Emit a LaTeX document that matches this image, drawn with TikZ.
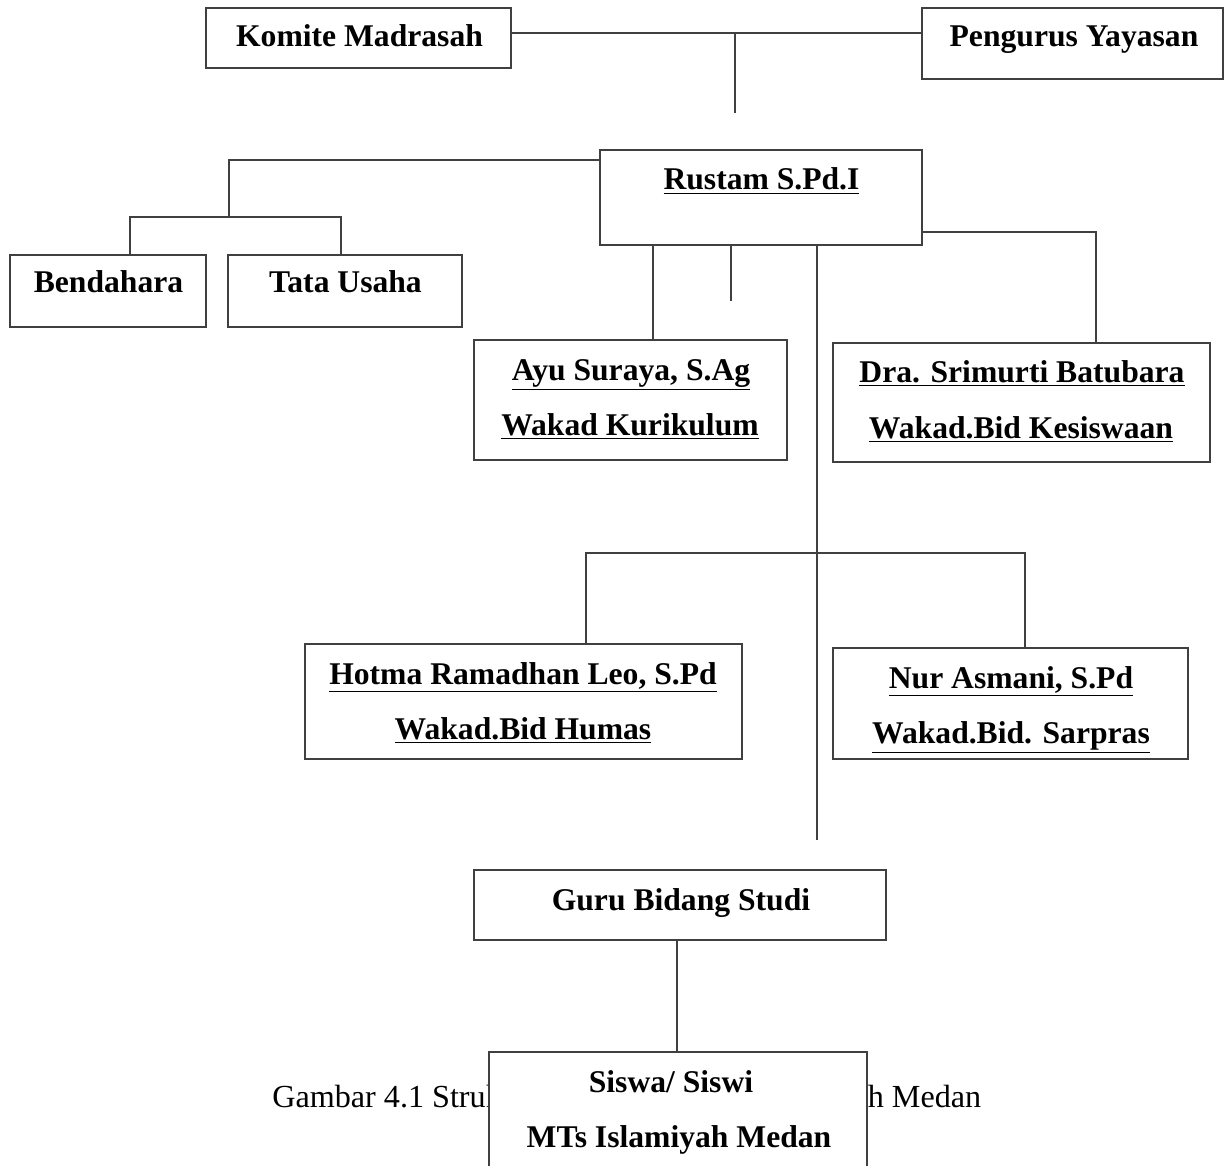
\documentclass[tikz,border=0pt]{standalone}
\usepackage{fontspec}
\setmainfont{Liberation Serif}
\begin{document}
\begin{tikzpicture}[x=0.02cm,y=-0.02cm,
  box/.style={draw=black!75,line width=0.8pt,rectangle,inner sep=0pt,fill=white},
  lbl/.style={anchor=base,inner sep=0pt,font=\fontsize{18}{22}\selectfont\bfseries},
  captext/.style={anchor=base west,inner sep=0pt,font=\fontsize{18.3}{22}\selectfont},
  conn/.style={draw=black!75,line width=0.6pt}]
\useasboundingbox[fill=white] (0,0) rectangle (1225,1166);
\clip (0,0) rectangle (1225,1166);

% boxes
\node[box,minimum width=6.10cm,minimum height=1.20cm] (komite) at (358.5,38) {};
\node[box,minimum width=6.02cm,minimum height=1.42cm] (pengurus) at (1072.5,43.5) {};
\node[box,minimum width=6.44cm,minimum height=1.90cm] (rustam) at (761,197.5) {};
\node[box,minimum width=3.92cm,minimum height=1.44cm] (bend) at (108,291) {};
\node[box,minimum width=4.68cm,minimum height=1.44cm] (tata) at (345,291) {};
\node[box,minimum width=6.26cm,minimum height=2.40cm] (ayu) at (630.5,400) {};
\node[box,minimum width=7.54cm,minimum height=2.38cm] (dra) at (1021.5,402.5) {};
\node[box,minimum width=8.74cm,minimum height=2.30cm] (hotma) at (523.5,701.5) {};
\node[box,minimum width=7.10cm,minimum height=2.22cm] (nur) at (1010.5,703.5) {};
\node[box,minimum width=8.24cm,minimum height=1.40cm] (guru) at (680,905) {};

% labels
\node[lbl] (tkomite) at (359.5,47) {Komite Madrasah};
\node[lbl] (tpengurus) at (1074,47) {Pengurus Yayasan};
\node[lbl] (trustam) at (761.5,190) {\underline{Rustam S.Pd.I}};
\node[lbl] (tbend) at (108.5,293) {Bendahara};
\node[lbl] (ttata) at (345.5,293) {Tata Usaha};
\node[lbl] (tayu1) at (631,380) {\underline{Ayu Suraya, S.Ag}};
\node[lbl] (tayu2) at (630,435) {\underline{Wakad Kurikulum}};
\node[lbl] (tdra1) at (1022,382) {\underline{Dra. Srimurti Batubara}};
\node[lbl] (tdra2) at (1021,438) {\underline{Wakad.Bid Kesiswaan}};
\node[lbl] (thotma1) at (523,684) {\underline{Hotma Ramadhan Leo, S.Pd}};
\node[lbl] (thotma2) at (523,739) {\underline{Wakad.Bid Humas}};
\node[lbl] (tnur1) at (1011,688) {\underline{Nur Asmani, S.Pd}};
\node[lbl] (tnur2) at (1011,743) {\underline{Wakad.Bid. Sarpras}};
\node[lbl] (tguru) at (681,910) {Guru Bidang Studi};

% connectors
\coordinate (jTop) at (735,33);
\coordinate (topEnd) at (735,113);
\draw[conn] (komite.east |- jTop) -- (pengurus.west |- jTop);
\draw[conn] (jTop) -- (topEnd);

\coordinate (jL) at (229,160);
\coordinate (jL2) at (229,217);
\coordinate (jB) at (341,217);
\draw[conn] (rustam.west |- jL) -- (jL) -- (jL2);
\draw[conn] (bend.north -| 130,0) |- (jB) -- (tata.north -| jB);

\draw[conn] (rustam.south -| 653,0) -- (ayu.north -| 653,0);
\coordinate (stub) at (731,301);
\draw[conn] (rustam.south -| stub) -- (stub);
\coordinate (longEnd) at (817,840);
\draw[conn] (rustam.south -| longEnd) -- (longEnd);
\draw[conn] (rustam.east |- 0,232) -| (dra.north -| 1096,0);

\coordinate (jR) at (1025,553);
\draw[conn] (hotma.north -| 586,0) |- (jR) -- (nur.north -| jR);

% caption (partly covered by the last box)
\node[captext] (caption) at (272,1107) {Gambar 4.1 Struktur Organisasi MTs Islamiyah Medan};

\node[box,minimum width=7.56cm,minimum height=2.56cm] (siswa) at (678,1116) {};
\node[lbl] (tsiswa1) at (671,1092) {Siswa/ Siswi};
\node[lbl] (tsiswa2) at (679,1147) {MTs Islamiyah Medan};
\draw[conn] (guru.south -| 677,0) -- (siswa.north -| 677,0);
\end{tikzpicture}
\end{document}
